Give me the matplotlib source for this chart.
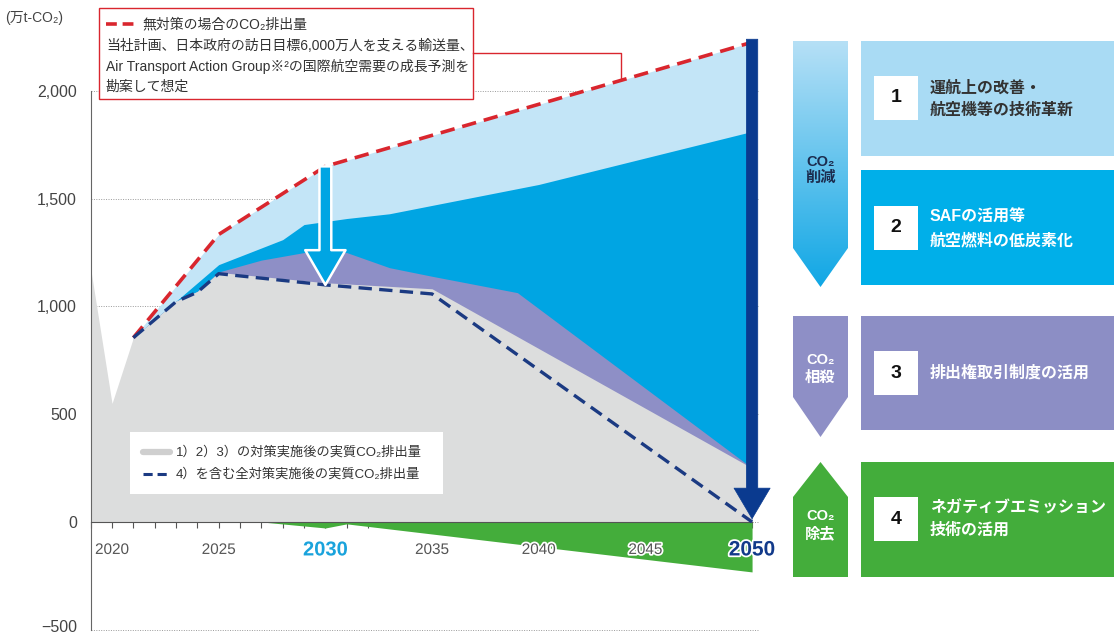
import numpy as np
import matplotlib
matplotlib.use("Agg")
import matplotlib.pyplot as plt
import matplotlib.patheffects as pe
import matplotlib.transforms as mtransforms
from matplotlib.patches import Rectangle, Polygon
from matplotlib.colors import LinearSegmentedColormap

plt.rcParams['font.family'] = ['Liberation Sans', 'Noto Sans CJK JP', 'DejaVu Sans']

# -----------------------------
# data (万t-CO2)
# -----------------------------
bau_years = [2021, 2025, 2030, 2050]
bau = [855, 1334, 1650, 2226]                     # 無対策

saf_years = [2021, 2025, 2028, 2029, 2031, 2033, 2040, 2050]
saf_top = [855, 1194, 1310, 1380, 1408, 1430, 1566, 1812]   # after 1)

offset_years = [2021, 2023, 2024, 2025, 2027, 2029, 2031, 2033, 2035, 2039, 2050]
offset_top = [855, 1025, 1070, 1160, 1215, 1250, 1250, 1180, 1140, 1064, 250]  # after 1)2)

net_years = [2019, 2020, 2021, 2023, 2024, 2025, 2030, 2035, 2050]
net_123 = [1175, 550, 855, 1025, 1070, 1158, 1110, 1082, 250]   # after 1)2)3)

all_years = [2021, 2023, 2024, 2025, 2030, 2035, 2050]
net_all = [855, 1022, 1066, 1152, 1100, 1058, 0]   # after 1)-4)

removal_years = [2027, 2030, 2031, 2050]
removal = [0, -28, -9, -232]

yticks = [-500, 0, 500, 1000, 1500, 2000]
xlabels = [2020, 2025, 2030, 2035, 2040, 2045, 2050]

C_LB = '#c3e5f7'
C_CY = '#00a5e3'
C_PU = '#8e8fc6'
C_GR = '#dcdddd'
C_GN = '#44ad3b'
C_RED = '#d9262e'
C_NAVY = '#1b3a82'

fig = plt.figure(figsize=(11.14, 6.34), dpi=100)
ax = fig.add_axes([90.7 / 1114, 0, 682.7 / 1114, 1])
ax.set_xlim(2019, 2051)
ax.set_ylim(-520, 2422)
ax.patch.set_alpha(0)

# gridlines
ax.hlines(yticks, 2019, 2050.3, colors='#9a9a9a', linestyles=(0, (1, 1.5)), lw=0.7, zorder=0)

# stacked areas (painted back to front)
ax.fill_between(bau_years, bau, 0, color=C_LB, lw=0, zorder=1)
ax.fill_between(saf_years, saf_top, 0, color=C_CY, lw=0, zorder=2)
ax.fill_between(offset_years, offset_top, 0, color=C_PU, lw=0, zorder=3)
ax.fill_between(net_years, net_123, 0, color=C_GR, lw=0, zorder=4)
ax.fill_between(removal_years, removal, 0, color=C_GN, lw=0, zorder=4)

ax.plot(bau_years, bau, color=C_RED, lw=2.6, dashes=(4, 2.2), zorder=6)
ax.plot(all_years, net_all, color=C_NAVY, lw=2.4, dashes=(4, 2.2), zorder=6)

# arrows
ax.annotate("", xy=(2030, 1100), xytext=(2030, 1650),
            arrowprops=dict(arrowstyle="simple,head_length=2.5,head_width=2.9,tail_width=0.85",
                            fc=C_CY, ec='white', lw=1.8, shrinkA=0, shrinkB=0), zorder=7)
ax.annotate("", xy=(2050, 15), xytext=(2050, 2240),
            arrowprops=dict(arrowstyle="simple,head_length=2.2,head_width=2.6,tail_width=0.82",
                            fc='#0a3a8f', ec='#0a3a8f', lw=0.5, shrinkA=0, shrinkB=0), zorder=8)

# axes styling
for s in ['top', 'right']:
    ax.spines[s].set_visible(False)
ax.spines['bottom'].set_position(('data', 0))
ax.spines['bottom'].set_bounds(2019, 2050)
ax.spines['bottom'].set_color('#555555')
ax.spines['bottom'].set_zorder(5)
ax.spines['left'].set_bounds(-500, 2000)
ax.spines['left'].set_color('#666666')
ax.spines['left'].set_zorder(5)
ax.set_xticks(range(2019, 2051))
ax.set_xticklabels([])
ax.tick_params(axis='x', direction='out', length=4, color='#555555', width=0.8)
ax.set_yticks(yticks)
ax.set_yticklabels([f"{v:,}".replace('-', '−') for v in yticks], fontsize=11.5, color='#444444')
ax.tick_params(axis='y', length=0, pad=10)
# lift the -500 label a little so it stays inside the picture
lab = ax.get_yticklabels()[0]
lab.set_transform(lab.get_transform() + mtransforms.ScaledTranslation(0, 3 / 72, fig.dpi_scale_trans))

for yr in xlabels:
    if yr == 2030:
        kw = dict(color='#1aa3dc', fontsize=14.5, fontweight='bold')
    elif yr == 2050:
        kw = dict(color='#123a8a', fontsize=15, fontweight='bold')
    else:
        kw = dict(color='#555555', fontsize=11)
    ax.text(yr, -130, str(yr), ha='center', va='center', zorder=9,
            path_effects=[pe.withStroke(linewidth=2.5, foreground='white')], **kw)

# -----------------------------
# overlay (pixel coordinates)
# -----------------------------
ov = fig.add_axes([0, 0, 1, 1], zorder=10)
ov.patch.set_alpha(0)
ov.axis('off')

ov.text(5, 18, "(万t-CO₂)", fontsize=10, color='#444444', va='center', ha='left')

# annotation box
ov.add_patch(Rectangle((99, 8), 374, 91, fc='white', ec=C_RED, lw=1.0))
ov.plot([473, 621, 621], [53, 53, 80], color=C_RED, lw=1.0)
ov.plot([106, 134], [24, 24], color=C_RED, lw=2.6, dashes=(3, 1.6))
ov.text(142, 24, "無対策の場合のCO₂排出量", fontsize=10, color='#333333', va='center')
ov.text(106, 46, "当社計画、日本政府の訪日目標6,000万人を支える輸送量、", fontsize=10, color='#333333', va='center')
ov.text(106, 67, "Air Transport Action Group※²の国際航空需要の成長予測を", fontsize=10, color='#333333', va='center')
ov.text(106, 87, "勘案して想定", fontsize=10, color='#333333', va='center')

# legend box
ov.add_patch(Rectangle((130, 432), 313, 62, fc='white', ec='none'))
ov.plot([143, 170], [452, 452], color='#cfcfcf', lw=4.5, solid_capstyle='round')
ov.text(176, 452, "1）2）3）の対策実施後の実質CO₂排出量", fontsize=9.5, color='#333333', va='center')
ov.plot([143, 171], [474, 474], color=C_NAVY, lw=2.2, dashes=(3, 1.6))
ov.text(176, 474, "4）を含む全対策実施後の実質CO₂排出量", fontsize=9.5, color='#333333', va='center')

# right panel: arrows
cmap = LinearSegmentedColormap.from_list('cut', ['#b6e0f6', '#10a7e5'])
poly = Polygon([(793, 41), (848, 41), (848, 248), (820.5, 287), (793, 248)],
               closed=True, fc='none', ec='none')
ov.add_patch(poly)
im = ov.imshow(np.linspace(0, 1, 256).reshape(-1, 1), cmap=cmap,
               extent=(793, 848, 287, 41), aspect='auto')
im.set_clip_path(poly)
ov.add_patch(Polygon([(793, 316), (848, 316), (848, 397), (820.5, 437), (793, 397)],
                     closed=True, fc=C_PU, ec='none'))
ov.add_patch(Polygon([(820.5, 462), (848, 497), (848, 577), (793, 577), (793, 497)],
                     closed=True, fc=C_GN, ec='none'))
ov.set_xlim(0, 1114)
ov.set_ylim(634, 0)

arrow_labels = [("CO₂", "削減", 162, 178, '#1c2d4f'),
                ("CO₂", "相殺", 360, 378, 'white'),
                ("CO₂", "除去", 516, 534, 'white')]
for a, b, y1, y2, c in arrow_labels:
    ov.text(820.5, y1, a, ha='center', va='center', fontsize=10.5, fontweight='bold', color=c)
    ov.text(820.5, y2, b, ha='center', va='center', fontsize=11, fontweight='bold', color=c)

# right panel: boxes
boxes = [
    (41, 156, '#a9dbf4', "1", ["運航上の改善・", "航空機等の技術革新"], [88, 110], 98, '#333333'),
    (170, 285, '#00afe9', "2", ["SAFの活用等", "航空燃料の低炭素化"], [217, 240], 228, 'white'),
    (316, 430, '#8c8ec5', "3", ["排出権取引制度の活用"], [373], 373, 'white'),
    (462, 577, '#43ad3b', "4", ["ネガティブエミッション", "技術の活用"], [508, 530], 519, 'white'),
]
for top, bot, col, num, lines, ys, sq, tc in boxes:
    ov.add_patch(Rectangle((861, top), 253, bot - top, fc=col, ec='none'))
    ov.add_patch(Rectangle((874, sq - 22), 44, 44, fc='white', ec='none'))
    ov.text(896, sq, num, ha='center', va='center', fontsize=14, fontweight='bold', color='#111111')
    for txt, yy in zip(lines, ys):
        ov.text(930, yy, txt, ha='left', va='center', fontsize=11.5, fontweight='bold', color=tc)

fig.savefig("out.png", dpi=100)
